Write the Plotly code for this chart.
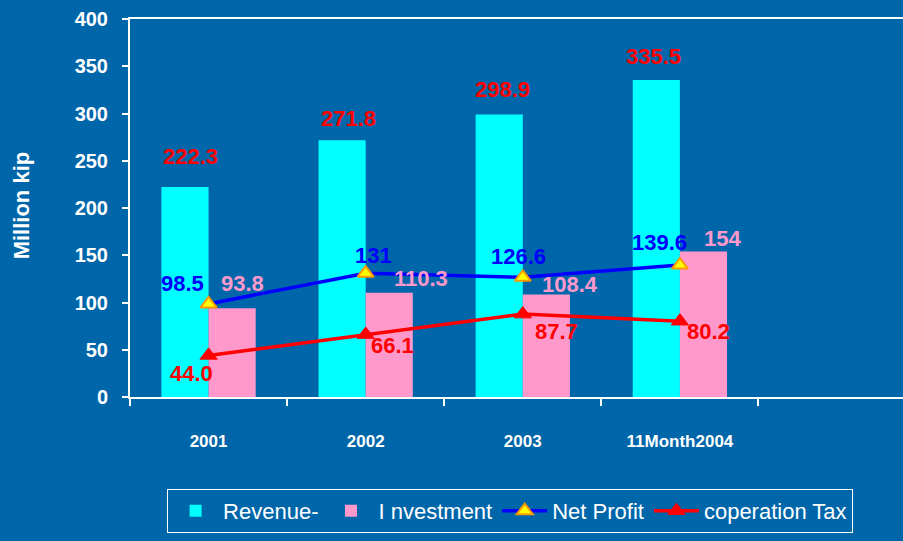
import plotly.graph_objects as go

categories = ["2001", "2002", "2003", "11Month2004"]
revenue = [222.3, 271.8, 298.9, 335.5]
investment = [93.8, 110.3, 108.4, 154]
net_profit = [98.5, 131, 126.6, 139.6]
corp_tax = [44.0, 66.1, 87.7, 80.2]

revenue_text = ["222.3", "271.8", "298.9", "335.5"]
investment_text = ["93.8", "110.3", "108.4", "154"]
net_profit_text = ["98.5", "131", "126.6", "139.6"]
corp_tax_text = ["44.0", "66.1", "87.7", "80.2"]

y_ticks = [0, 50, 100, 150, 200, 250, 300, 350, 400]

# label offsets in pixels (style only)
rev_dx = [-18, -17, -20, -26]
rev_dy = [30, 22, 25, 23]
inv_dx = [34, 55, 47, 43]
inv_dy = [25, 14, 10, 13]
np_dx = [-26, 8, -4, -20]
np_dy = [20, 18, 21, 23]
tax_dx = [-17, 27, 34, 29]
tax_dy = [-18, -11, -17, -10]

BG = "#0066AA"
FONT = "Arial, Liberation Sans, sans-serif"

fig = go.Figure()
fig.add_trace(go.Bar(x=categories, y=revenue, name="Revenue-",
                     marker=dict(color="#00FFFF", line=dict(width=0))))
fig.add_trace(go.Bar(x=categories, y=investment, name="I nvestment",
                     marker=dict(color="#FF99CC", line=dict(width=0))))
fig.add_trace(go.Scatter(x=categories, y=net_profit, name="Net Profit",
                         mode="lines+markers",
                         line=dict(color="#0000FF", width=3.5),
                         marker=dict(symbol="triangle-up", size=14, color="#FFFF00",
                                     line=dict(color="#FF9900", width=2))))
fig.add_trace(go.Scatter(x=categories, y=corp_tax, name="coperation Tax",
                         mode="lines+markers",
                         line=dict(color="#FF0000", width=3.5),
                         marker=dict(symbol="triangle-up", size=15, color="#FF0000",
                                     line=dict(color="#FF0000", width=1))))

def add_labels(vals, texts, dxs, dys, color):
    for i, (v, t, dx, dy) in enumerate(zip(vals, texts, dxs, dys)):
        # category axis: annotation x given as category index
        fig.add_annotation(x=i, y=v, text=t, showarrow=False, xref="x", yref="y",
                           xshift=dx, yshift=dy, xanchor="center", yanchor="middle",
                           font=dict(family=FONT, size=22, color=color, weight="bold"))

add_labels(revenue, revenue_text, rev_dx, rev_dy, "#FF0000")
add_labels(investment, investment_text, inv_dx, inv_dy, "#FF99CC")
add_labels(net_profit, net_profit_text, np_dx, np_dy, "#0000FF")
add_labels(corp_tax, corp_tax_text, tax_dx, tax_dy, "#FF0000")

fig.add_annotation(text="Million kip", textangle=-90, showarrow=False,
                   xref="paper", yref="paper", x=-0.141, y=0.507,
                   xanchor="center", yanchor="middle",
                   font=dict(family=FONT, size=22, color="white", weight="bold"))

fig.update_layout(
    width=903, height=541,
    margin=dict(l=130, r=0, t=19, b=144),
    paper_bgcolor=BG, plot_bgcolor=BG,
    barmode="group", bargap=0.4, bargroupgap=0,
    font=dict(family=FONT, color="white"),
    showlegend=True,
    legend=dict(orientation="h", x=0.048, y=-0.243, xanchor="left", yanchor="top",
                bgcolor="rgba(0,0,0,0)", bordercolor="white", borderwidth=1,
                font=dict(family=FONT, size=22, color="white"),
                itemwidth=45, tracegroupgap=0),
    xaxis=dict(type="category", range=[-0.5, 4.42], showgrid=False,
               showline=True, linecolor="white", linewidth=2, mirror=True,
               ticks="outside", tickson="boundaries", ticklen=7, tickcolor="white",
               tickwidth=1.5, ticklabelstandoff=28,
               tickfont=dict(family=FONT, size=17, color="white", weight="bold"),
               zeroline=False, fixedrange=True),
    yaxis=dict(range=[0, 400], tickvals=y_ticks, showgrid=False,
               showline=True, linecolor="white", linewidth=2,
               ticks="outside", ticklen=6, tickcolor="white", tickwidth=2,
               ticklabelstandoff=10,
               tickfont=dict(family=FONT, size=20, color="white", weight="bold"),
               zeroline=False, fixedrange=True),
)

fig.write_html("out.html", config={"displayModeBar": False},
               post_script="document.body.style.margin='0';document.body.style.overflow='hidden';")
